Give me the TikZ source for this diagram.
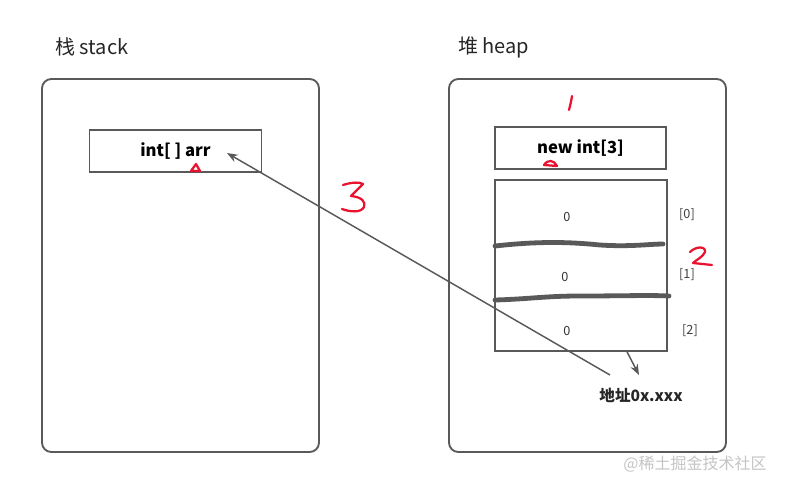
\documentclass[tikz,border=0pt]{standalone}
\usepackage{fontspec}
\setmainfont{Noto Sans CJK SC}
\usetikzlibrary{arrows.meta, positioning, calc}
\definecolor{linegray}{HTML}{595959}
\definecolor{inkred}{HTML}{E8132E}
\definecolor{marktext}{HTML}{C4C4C4}

\begin{document}
\begin{tikzpicture}[
    x=0.75pt, y=-0.75pt,
    area/.style={draw=linegray, line width=1.4pt, rounded corners=7pt},
    cell/.style={rectangle, draw=linegray, line width=1.4pt, inner sep=0pt, font=\fontsize{12.5}{14}\selectfont\bfseries},
    title/.style={font=\fontsize{15}{18}\selectfont, text=black!85, anchor=west, inner sep=0pt},
    value/.style={font=\fontsize{9.5}{11}\selectfont, text=black!80},
    index/.style={font=\fontsize{9.5}{11}\selectfont, text=black!75},
    arrow/.style={-{Stealth[length=8pt, width=6pt]}, draw=linegray, line width=1.1pt},
    divider/.style={draw=linegray, line width=3.6pt, line cap=round},
    redink/.style={draw=inkred, line width=1.7pt, line cap=round, line join=round}
]
    \useasboundingbox (0,0) rectangle (785,489);

    % ========== LEFT: stack ==========
    \node[title] (stack_title) at (55,47) {栈 stack};
    \draw[area] (42,79) rectangle (319,452);
    \node[cell, minimum width=129pt, minimum height=31.5pt] (arr) at (175.5,151) {int[ ] arr};

    % ========== RIGHT: heap ==========
    \node[title] (heap_title) at (458,47) {堆 heap};
    \draw[area] (449,79) rectangle (726,452);
    \node[cell, minimum width=128pt, minimum height=31.5pt] (newarr) at (580.5,148) {new int[3]};

    % array block
    \node[cell, minimum width=129pt, minimum height=128pt] (block) at (581,265.5) {};
    \draw[divider] (495,246) .. controls (540,241) and (570,242) .. (600,245)
        .. controls (630,247) and (650,244) .. (663,244);
    \draw[divider] (495,300) .. controls (530,299) and (545,296) .. (580,296)
        .. controls (620,296) and (650,295) .. (669,296);

    % values and indices
    \node[value] (v0) at (567,217) {0};
    \node[value] (v1) at (565,277) {0};
    \node[value] (v2) at (567,331) {0};
    \node[index] (i0) at (687,215) {[0]};
    \node[index] (i1) at (687,275) {[1]};
    \node[index] (i2) at (690,331) {[2]};

    % address
    \node[font=\fontsize{11.7}{13}\selectfont\bfseries, text=black!85] (addr) at (641,395) {地址0x.xxx};
    \coordinate (addr_in) at (639,375);
    \coordinate (addr_out) at (610,375);
    \coordinate (arr_in) at (227,153);
    \draw[arrow] ($(block.south)+(46,0)$) -- (addr_in);
    \draw[arrow] (addr_out) -- (arr_in);

    % ========== red notes ==========
    \draw[redink] (572,96) .. controls (571,102) .. (569,110);
    \draw[redink] (343,185) .. controls (352,182) and (360,182) .. (363,184)
        -- (351,196) .. controls (362,197) and (366,202) .. (364,207)
        .. controls (361,213) and (350,212) .. (342,209);
    \draw[redink] (690,252) .. controls (696,246) and (706,246) .. (705,252)
        .. controls (703,257) and (696,260) .. (693,263) -- (712,265);
    \draw[redink, fill=white] (191,171) -- (196,164) -- (200,171) -- cycle;
    \draw[redink, fill=white] (544,165) .. controls (548,159) and (554,160) .. (557,166) -- cycle;

    % watermark
    \node[font=\fontsize{12}{14}\selectfont, text=marktext] (mark) at (695,464) {@稀土掘金技术社区};
\end{tikzpicture}
\end{document}
